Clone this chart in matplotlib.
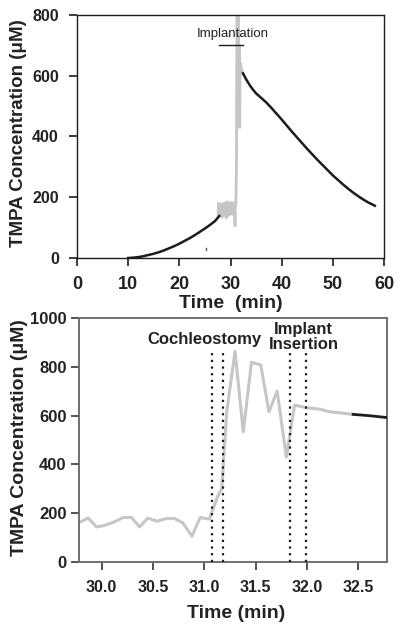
import matplotlib
matplotlib.use("Agg")
import matplotlib.pyplot as plt

plt.rcParams['font.family'] = ['Liberation Sans', 'DejaVu Sans']

# ---------------- data ----------------
# Top panel: black model curve before implantation
rise_t = [10, 11, 12, 13, 14, 15, 16, 17, 18, 19, 20, 21, 22, 23, 24, 25, 26, 27, 27.8]
rise_c = [0, 1, 3, 6, 10, 14, 19, 25, 32, 39, 47, 56, 65, 75, 86, 97, 109, 122, 138]

# Top panel: black decay curve after implantation
decay_t = [32.45, 33.0, 33.5, 34.0, 34.5, 35, 36, 37, 38, 39, 40, 41, 42, 43, 44, 45, 46, 47,
           48, 49, 50, 51, 52, 53, 54, 55, 56, 57, 58, 58.2]
decay_c = [608, 590, 576, 563, 552, 542, 527, 512, 494, 475, 456, 436, 416, 397, 378, 359, 341, 323,
           306, 289, 272, 257, 242, 228, 215, 203, 192, 182, 174, 172]

# Gray measured trace before the zoomed window (top panel only)
early_t = [27.6, 27.68, 27.76, 27.84, 27.92, 28.0, 28.08, 28.16, 28.24, 28.32, 28.4, 28.48, 28.56,
           28.64, 28.72, 28.8, 28.88, 28.96, 29.04, 29.12, 29.2, 29.28, 29.36, 29.44, 29.52, 29.6, 29.68]
early_c = [140, 180, 150, 175, 140, 170, 150, 178, 145, 168, 135, 172, 150,
           180, 140, 165, 155, 182, 145, 175, 132, 170, 150, 185, 140, 172, 160]

# Gray measured trace (shown in both panels)
meas_t = [29.78, 29.87, 29.95, 30.02, 30.11, 30.21, 30.29, 30.37, 30.45, 30.54, 30.63, 30.71, 30.79,
          30.88, 30.96, 31.05, 31.13, 31.17, 31.22, 31.30, 31.38, 31.46, 31.55, 31.63, 31.71, 31.80,
          31.88, 32.0, 32.13, 32.22, 32.35, 32.45]
meas_c = [162, 180, 144, 149, 162, 182, 183, 144, 180, 167, 178, 178, 161,
          106, 182, 176, 268, 300, 620, 863, 534, 818, 808, 616, 700, 430,
          643, 632, 626, 616, 610, 605]

# Bottom panel: black decay curve tail
tail_t = [32.45, 32.6, 32.78]
tail_c = [605, 600, 592]

# small stray mark in top panel
stray_t = [25.3, 25.3]
stray_c = [26, 34]

# event markers (bottom panel)
event_t = [31.08, 31.18, 31.84, 31.99]
event_top = 870

implant_bar = (27.8, 32.4, 700)

top_xticks = [0, 10, 20, 30, 40, 50, 60]
top_yticks = [0, 200, 400, 600, 800]
bot_xticks = [30.0, 30.5, 31.0, 31.5, 32.0, 32.5]
bot_yticks = [0, 200, 400, 600, 800, 1000]

GRAY = '#c6c6c6'
BLACK = '#1c1c1c'
TXT = '#222222'

fig = plt.figure(figsize=(4.0, 6.28), dpi=100)

# ---------------- top panel ----------------
ax1 = fig.add_axes([0.1925, 0.5892, 0.7675, 0.3869])
ax1.plot(early_t + meas_t, early_c + meas_c, color=GRAY, lw=2.0, zorder=2)
ax1.plot(rise_t, rise_c, color=BLACK, lw=1.8, zorder=3)
ax1.plot(decay_t, decay_c, color=BLACK, lw=1.8, zorder=3)
ax1.plot(stray_t, stray_c, color='#555555', lw=1.0)
ax1.plot([implant_bar[0], implant_bar[1]], [implant_bar[2], implant_bar[2]], color=BLACK, lw=1.0)
ax1.text(30.5, 737, 'Implantation', ha='center', va='center', fontsize=9.5, color=TXT)
ax1.set_xlim(0, 60)
ax1.set_ylim(0, 800)
ax1.set_xticks(top_xticks)
ax1.set_yticks(top_yticks)
ax1.set_xticklabels([str(v) for v in top_xticks], fontsize=13, fontweight='bold', color=TXT)
ax1.set_yticklabels([str(v) for v in top_yticks], fontsize=11.5, fontweight='bold', color=TXT)
ax1.tick_params(axis='x', direction='out', length=6, width=1.2, pad=7, color=BLACK)
ax1.tick_params(axis='y', direction='out', length=6, width=1.2, pad=7, color=BLACK)
for s in ax1.spines.values():
    s.set_color(BLACK)
    s.set_linewidth(1.0)

# ---------------- bottom panel ----------------
ax2 = fig.add_axes([0.1975, 0.1051, 0.77, 0.3885])
ax2.plot(meas_t, meas_c, color=GRAY, lw=2.2, zorder=2)
ax2.plot(tail_t, tail_c, color=BLACK, lw=2.0, zorder=3)
for t in event_t:
    ax2.plot([t, t], [0, event_top], color=BLACK, lw=1.6, linestyle=(0, (1, 2)), zorder=4)
ax2.text(31.0, 914, 'Cochleostomy', ha='center', va='center', fontsize=12, fontweight='bold', color=TXT)
ax2.text(31.97, 922, 'Implant\nInsertion', ha='center', va='center', fontsize=12, fontweight='bold',
         color=TXT, linespacing=1.05)
ax2.set_xlim(29.78, 32.78)
ax2.set_ylim(0, 1000)
ax2.set_xticks(bot_xticks)
ax2.set_yticks(bot_yticks)
ax2.set_xticklabels([f'{v:.1f}' for v in bot_xticks], fontsize=11.5, fontweight='bold', color=TXT)
ax2.set_yticklabels([str(v) for v in bot_yticks], fontsize=12, fontweight='bold', color=TXT)
ax2.tick_params(axis='both', direction='out', length=6, width=1.3, color='#444444')
ax2.tick_params(axis='x', pad=7)
ax2.tick_params(axis='y', pad=3)
for s in ax2.spines.values():
    s.set_color('#707070')
    s.set_linewidth(1.4)

# ---------------- axis labels ----------------
fig.text(0.0475, 0.788, 'TMPA Concentration (μM)', rotation=90, ha='center', va='center',
         fontsize=13.5, fontweight='bold', color=TXT)
fig.text(0.05, 0.3025, 'TMPA Concentration (μM)', rotation=90, ha='center', va='center',
         fontsize=14, fontweight='bold', color=TXT)
fig.text(0.577, 0.5175, 'Time  (min)', ha='center', va='center', fontsize=14, fontweight='bold', color=TXT)
fig.text(0.59, 0.0223, 'Time (min)', ha='center', va='center', fontsize=14, fontweight='bold', color=TXT)

fig.savefig('out.png', dpi=100)
